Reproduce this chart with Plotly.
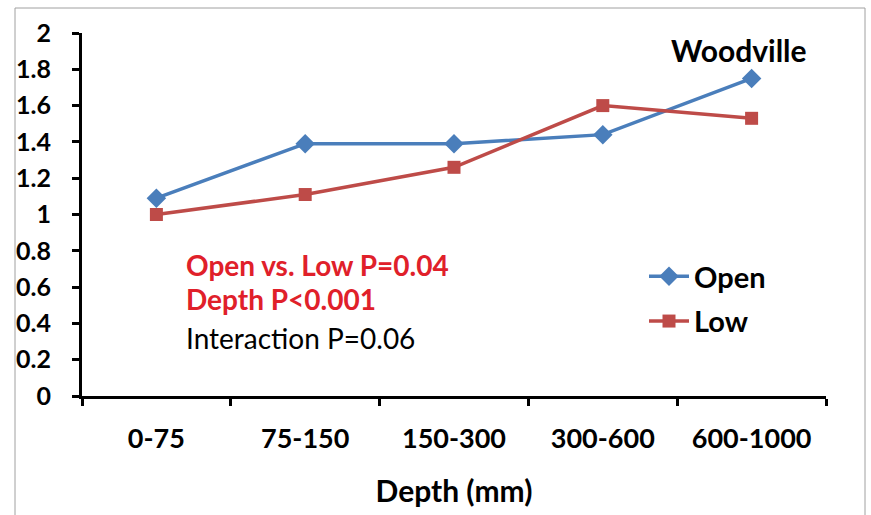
import plotly.graph_objects as go

categories = ["0-75", "75-150", "150-300", "300-600", "600-1000"]
open_vals = [1.09, 1.39, 1.39, 1.44, 1.75]
low_vals = [1.00, 1.11, 1.26, 1.60, 1.53]
y_ticks = [0, 0.2, 0.4, 0.6, 0.8, 1, 1.2, 1.4, 1.6, 1.8, 2]
y_tick_text = ["0", "0.2", "0.4", "0.6", "0.8", "1", "1.2", "1.4", "1.6", "1.8", "2"]

FONT = "Lato"
W, H = 871, 515
L, R, T, B = 82, 45, 33, 119
pw, ph = W - L - R, H - T - B

def px(x):
    return (x - L) / pw

def py(y):
    return (H - B - y) / ph

fig = go.Figure()
fig.add_trace(go.Scatter(
    x=categories, y=open_vals, name="Open", mode="lines+markers", legendgroup="a",
    line=dict(color="#4A7EBB", width=3.5),
    marker=dict(symbol="diamond", size=15, color="#4A7EBB"),
))
fig.add_trace(go.Scatter(
    x=categories, y=low_vals, name="Low", mode="lines+markers", legendgroup="b",
    line=dict(color="#BE4B48", width=3.5),
    marker=dict(symbol="square", size=13, color="#BE4B48"),
))

fig.update_layout(
    width=W, height=H,
    margin=dict(l=L, r=R, t=T, b=B),
    paper_bgcolor="white", plot_bgcolor="white",
    font=dict(family=FONT, color="black"),
    showlegend=True,
    legend=dict(x=px(644), y=py(251), xanchor="left", yanchor="top",
                font=dict(size=29, family=FONT, weight="bold"),
                bgcolor="rgba(0,0,0,0)", tracegroupgap=4, itemwidth=40),
    xaxis=dict(
        type="category", range=[-0.5, 4.5], showline=True, linecolor="black", linewidth=3,
        ticks="outside", ticklen=7, tickwidth=3, tickcolor="black",
        tickson="boundaries", showgrid=False, zeroline=False,
        ticklabelstandoff=17,
        tickfont=dict(size=27, family=FONT, weight="bold"),
        title=dict(text="Depth (mm)", font=dict(size=30, family=FONT, weight="bold"), standoff=28),
    ),
    yaxis=dict(
        range=[0, 2], tickvals=y_ticks, ticktext=y_tick_text,
        showline=True, linecolor="black", linewidth=3,
        ticks="outside", ticklen=7, tickwidth=3, tickcolor="black",
        showgrid=False, zeroline=False, ticklabelstandoff=16,
        tickfont=dict(size=25, family=FONT, weight="bold"),
    ),
)

fig.add_annotation(xref="paper", yref="paper", x=px(184), y=py(265), xanchor="left", yanchor="middle",
                   text="<b>Open vs. Low P=0.04</b>", showarrow=False,
                   font=dict(size=28, family=FONT, color="#E0202A"))
fig.add_annotation(xref="paper", yref="paper", x=px(184), y=py(299), xanchor="left", yanchor="middle",
                   text="<b>Depth P<0.001</b>", showarrow=False,
                   font=dict(size=28, family=FONT, color="#E0202A"))
fig.add_annotation(xref="paper", yref="paper", x=px(184), y=py(338), xanchor="left", yanchor="middle",
                   text="Interaction P=0.06", showarrow=False,
                   font=dict(size=28, family=FONT, color="black"))
fig.add_annotation(xref="paper", yref="paper", x=px(739), y=py(50), xanchor="center", yanchor="middle",
                   text="<b>Woodville</b>", showarrow=False,
                   font=dict(size=30, family=FONT, color="black"))

fig.add_shape(type="rect", xref="paper", yref="paper",
              x0=px(15), x1=px(865), y0=py(530), y1=py(8),
              line=dict(color="#A0A0A0", width=1), fillcolor="rgba(0,0,0,0)", layer="below")

fig.write_html("out.html", config={"displayModeBar": False},
               post_script="document.body.style.margin='0';")
